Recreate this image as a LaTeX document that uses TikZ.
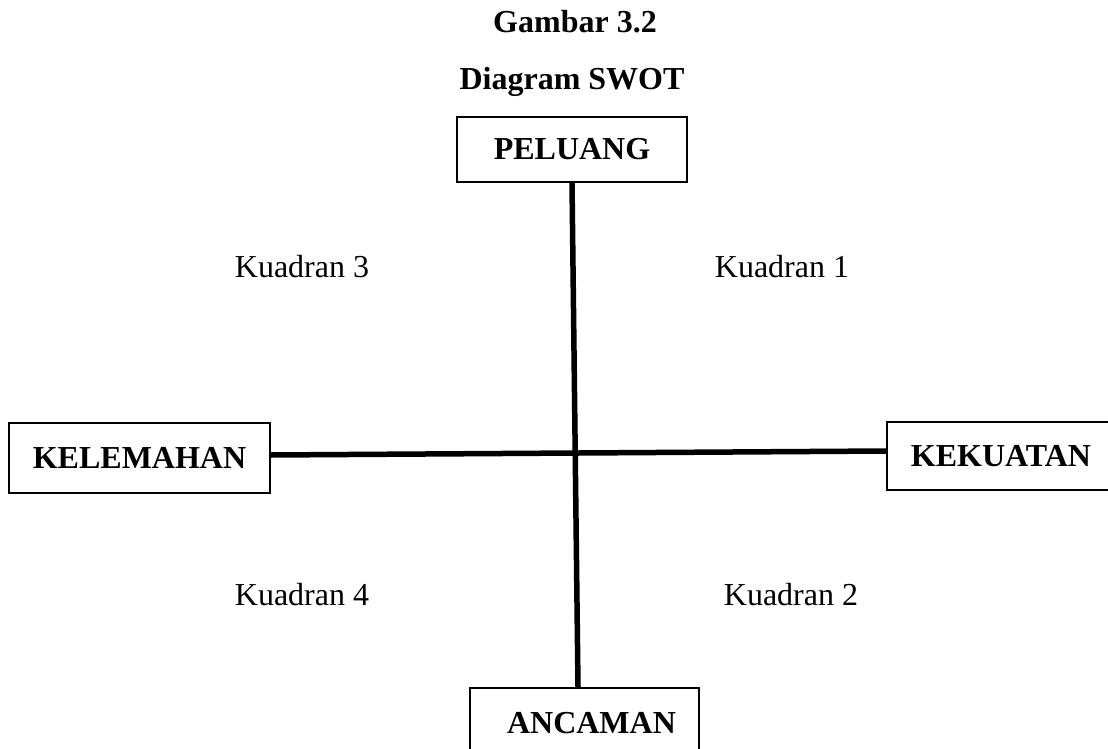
\documentclass[tikz,border=0pt]{standalone}
\usepackage{fontspec}
\setmainfont{Liberation Serif}
\usetikzlibrary{calc,positioning}

\begin{document}
\begin{tikzpicture}[x=1pt, y=-1pt, every node/.style={font=\fontsize{32}{38}\selectfont}, axis/.style={draw=black, line width=5.5pt}, border/.style={draw=black, line width=2.2pt}]
% Define styles for boxes, titles and quadrant labels
\tikzstyle{block} = [rectangle, fill=white, border, inner sep=0pt, font=\fontsize{32}{38}\selectfont\bfseries]
\tikzstyle{title} = [anchor=base, font=\fontsize{32}{38}\selectfont\bfseries]
\tikzstyle{quad} = [anchor=base]

\useasboundingbox (0,0) rectangle (1108,749);

% Titles
\node [title] (gambar) at (575,33) {Gambar 3.2};
\node [title] (swot) at (572,90) {Diagram SWOT};

% Boxes placement
\node [block, minimum width=230pt, minimum height=65pt] (peluang) at (572,149.5) {PELUANG};
\node [block, minimum width=261pt, minimum height=70pt] (kelemahan) at (139.5,458) {KELEMAHAN};
\node [block, minimum width=240pt, minimum height=68pt] (kekuatan) at (1007,456) {\hspace{-12pt}KEKUATAN};
\node [block, minimum width=229pt, minimum height=70pt] (ancaman) at (584.5,723) {\hspace{14pt}ANCAMAN};

% Quadrant labels
\node [quad] (kuadran3) at (302,277) {Kuadran 3};
\node [quad] (kuadran1) at (782,277) {Kuadran 1};
\node [quad] (kuadran4) at (302,605) {Kuadran 4};
\node [quad] (kuadran2) at (791,605) {Kuadran 2};

% Axes
\draw[axis] (peluang.south) -- ([xshift=-6.5pt]ancaman.north);
\draw[axis] ([yshift=3pt]kelemahan.east) -- ([yshift=5pt]kekuatan.west);
\end{tikzpicture}
\end{document}
